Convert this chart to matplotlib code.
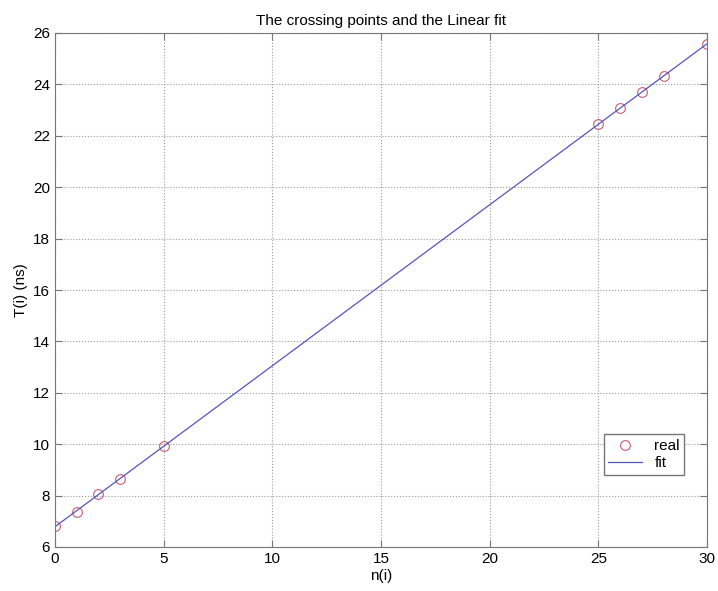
import numpy as np
import matplotlib
matplotlib.use("Agg")
import matplotlib.pyplot as plt

plt.rcParams['font.family'] = ['Liberation Sans', 'DejaVu Sans']

# measured crossing points
n = [0, 1, 2, 3, 5, 25, 26, 27, 28, 30]
T = [6.82, 7.38, 8.05, 8.64, 9.94, 22.45, 23.09, 23.71, 24.32, 25.56]

xticks = [0, 5, 10, 15, 20, 25, 30]
yticks = [6, 8, 10, 12, 14, 16, 18, 20, 22, 24, 26]

# least squares line through the points
p = np.polyfit(n, T, 1)
n_fit = np.array([0, 30])
T_fit = np.polyval(p, n_fit)

fig = plt.figure(figsize=(7.18, 5.91), dpi=100)
ax = fig.add_axes([55 / 718, 44 / 591, 652 / 718, 514 / 591])

ax.plot(n, T, 'o', mfc='none', mec='#c85a78', ms=7, mew=0.8, label='real')
ax.plot(n_fit, T_fit, '-', color='#5555bb', lw=0.9, label='fit')

ax.set_xlim(0, 30)
ax.set_ylim(6, 26)
ax.set_xticks(xticks)
ax.set_yticks(yticks)
ax.grid(True, linestyle=':', color='#999999', linewidth=0.8)
ax.tick_params(direction='in', top=True, right=True, labelsize=11, length=5,
               color='#777777')
for s in ax.spines.values():
    s.set_color('#777777')

ax.set_xlabel('n(i)', fontsize=11, labelpad=2)
ax.set_ylabel('T(i) (ns)', fontsize=11, labelpad=4)
ax.set_title('The crossing points and the Linear fit', fontsize=11, pad=6)

ax.legend(loc='lower right', bbox_to_anchor=(0.977, 0.126), fontsize=11,
          fancybox=False, edgecolor='#777777', framealpha=1,
          handlelength=2.2, borderpad=0.3, labelspacing=0.2)

fig.savefig('out.png', dpi=100)
